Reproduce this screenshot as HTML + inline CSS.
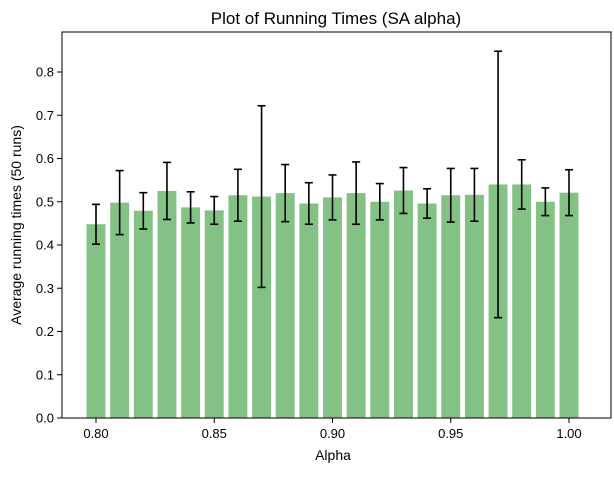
<!DOCTYPE html>
<html><head><meta charset="utf-8"><style>
body{margin:0;background:#fff;}
svg text{font-family:"Liberation Sans","DejaVu Sans",sans-serif;fill:#000;}
</style></head><body>
<svg id="chart" width="614" height="472">
<text x="336" y="24" font-size="17" text-anchor="middle">Plot of Running Times (SA alpha)</text>
<text x="333" y="460" font-size="14" text-anchor="middle">Alpha</text>
<text transform="translate(21,225) rotate(-90)" font-size="14" text-anchor="middle">Average running times (50 runs)</text>
<g id="bars"></g><g id="errs"></g><g id="ticks"></g>
<rect x="62" y="32" width="549" height="386" fill="none" stroke="#000" stroke-width="1"/>
</svg>
<script>
const alphas=[0.80,0.81,0.82,0.83,0.84,0.85,0.86,0.87,0.88,0.89,0.90,0.91,0.92,0.93,0.94,0.95,0.96,0.97,0.98,0.99,1.00];
const means=[0.448,0.498,0.479,0.525,0.487,0.480,0.515,0.512,0.520,0.496,0.510,0.520,0.500,0.526,0.496,0.515,0.516,0.540,0.540,0.500,0.521];
const errors=[0.046,0.074,0.042,0.066,0.036,0.032,0.060,0.210,0.066,0.048,0.052,0.072,0.042,0.053,0.034,0.062,0.061,0.308,0.057,0.032,0.053];
const xTicks=[0.80,0.85,0.90,0.95,1.00];
const yTicks=[0,0.1,0.2,0.3,0.4,0.5,0.6,0.7,0.8];
const NS="http://www.w3.org/2000/svg";
const X=v=>96+(v-0.80)*2365;
const Y=v=>418-v*432.5;
function mk(t,a,p){const e=document.createElementNS(NS,t);for(const k in a)e.setAttribute(k,a[k]);p.appendChild(e);return e;}
const bars=document.getElementById('bars'),errs=document.getElementById('errs'),ticks=document.getElementById('ticks');
const bw=0.008*2365;
alphas.forEach((a,i)=>{
 const r=mk('rect',{x:X(a)-bw/2,y:Y(means[i]),width:bw,height:Y(0)-Y(means[i]),fill:'#83c185'},bars);
 
 
 const g=mk('g',{stroke:'#000','stroke-width':1.6},errs);
 
 
 const x=X(a),t=Y(means[i]+errors[i]),b=Y(means[i]-errors[i]);
 mk('line',{x1:x,x2:x,y1:t,y2:b},g);
 mk('line',{x1:x-4,x2:x+4,y1:t,y2:t},g);
 mk('line',{x1:x-4,x2:x+4,y1:b,y2:b},g);
});
xTicks.forEach(v=>{
 mk('line',{x1:X(v),x2:X(v),y1:418,y2:423,stroke:'#000'},ticks);
 const t=mk('text',{x:X(v),y:438,'font-size':13,'text-anchor':'middle'},ticks);t.textContent=v.toFixed(2);
 
 
});
yTicks.forEach(v=>{
 mk('line',{x1:57,x2:62,y1:Y(v),y2:Y(v),stroke:'#000'},ticks);
 const t=mk('text',{x:54,y:Y(v)+4.5,'font-size':13,'text-anchor':'end'},ticks);t.textContent=v.toFixed(1);
 
 
});
</script>
</body></html>
